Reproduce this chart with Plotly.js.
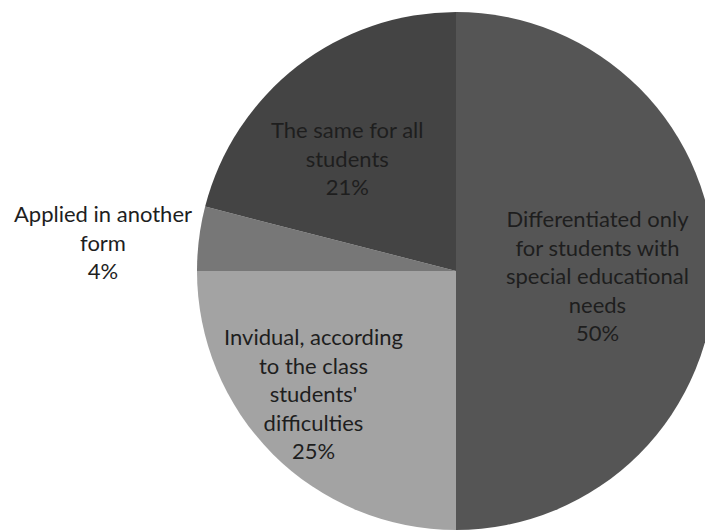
<!DOCTYPE html>
<html>
<head>
<meta charset="utf-8">
<script src="https://cdn.plot.ly/plotly-3.0.1.min.js"></script>
<style>
html, body { margin:0; padding:0; overflow:hidden; background:#fff; width:705px; height:530px; }
#chart { width:740px; height:530px; }
</style>
</head>
<body>
<div id="chart"></div>
<script>
// Data
const categories = [
  "Differentiated only for students with special educational needs",
  "Invidual, according to the class students' difficulties",
  "Applied in another form",
  "The same for all students"
];
const values = [50, 25, 4, 21];
const labelLines = [
  ["Differentiated only", "for students with", "special educational", "needs"],
  ["Invidual, according", "to the class", "students'", "difficulties"],
  ["Applied in another", "form"],
  ["The same for all", "students"]
];
const sliceColors = ["#555555", "#a3a3a3", "#777777", "#444444"];

// Label positions (paper coords of a 740x530 canvas)
const W = 740, H = 530;
const labelPos = [
  [597, 275],
  [313, 393],
  [103, 242],
  [347, 158]
];

const cx = 456, cy = 271, r = 259;
const trace = {
  type: "pie",
  labels: categories,
  values: values,
  sort: false,
  direction: "clockwise",
  rotation: 0,
  textinfo: "none",
  hoverinfo: "label+percent",
  marker: { colors: sliceColors, line: { width: 0 } },
  domain: { x: [(cx - r) / W, (cx + r) / W], y: [(H - cy - r) / H, (H - cy + r) / H] },
  showlegend: false
};

const total = values.reduce((a, b) => a + b, 0);
const annotations = categories.map((c, i) => ({
  xref: "paper", yref: "paper",
  x: labelPos[i][0] / W, y: 1 - labelPos[i][1] / H,
  xanchor: "center", yanchor: "middle",
  showarrow: false, align: "center",
  text: labelLines[i].concat([Math.round(values[i] / total * 100) + "%"]).join("<br>"),
  font: { family: "Lato, 'Open Sans', sans-serif", size: 22, color: "#1e1e1e" }
}));

Plotly.newPlot("chart", [trace], {
  width: W, height: H,
  margin: { l: 0, r: 0, t: 0, b: 0 },
  paper_bgcolor: "#ffffff",
  annotations: annotations
}, { displayModeBar: false, staticPlot: true });
</script>
</body>
</html>
